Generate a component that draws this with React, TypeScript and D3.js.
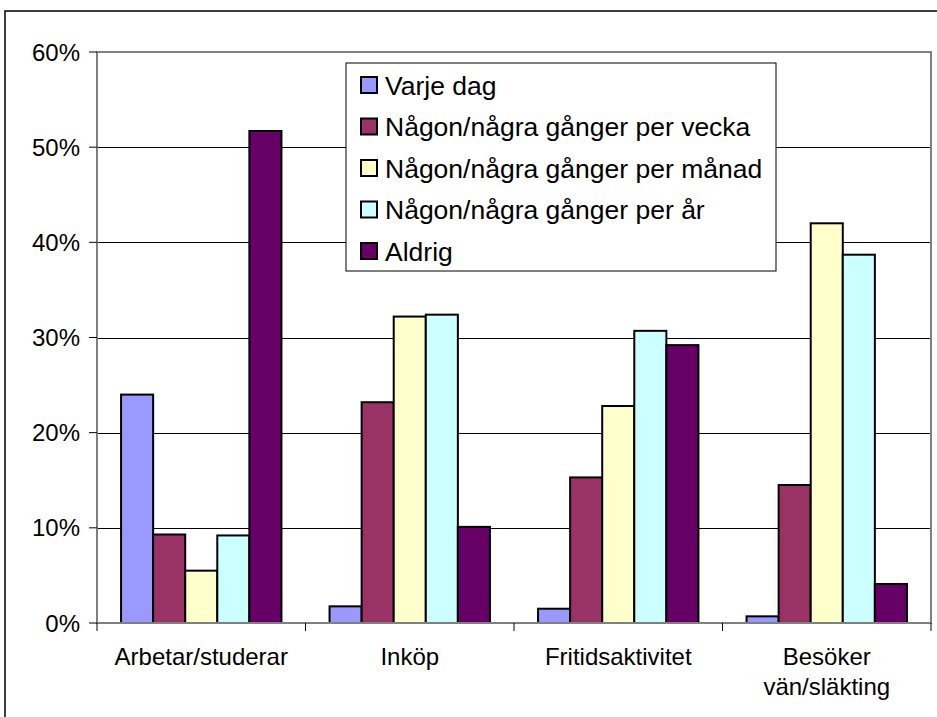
import React from "react";
import * as d3 from "d3";

const categories: string[][] = [
  ["Arbetar/studerar"],
  ["Inköp"],
  ["Fritidsaktivitet"],
  ["Besöker", "vän/släkting"],
];
const seriesNames = [
  "Varje dag",
  "Någon/några gånger per vecka",
  "Någon/några gånger per månad",
  "Någon/några gånger per år",
  "Aldrig",
];
const seriesColors = ["#9999FF", "#993366", "#FFFFCC", "#CCFFFF", "#660066"];
const varjeDag = [0.24, 0.0175, 0.015, 0.007];
const perVecka = [0.093, 0.232, 0.153, 0.145];
const perManad = [0.055, 0.322, 0.228, 0.42];
const perAr = [0.092, 0.324, 0.307, 0.387];
const aldrig = [0.517, 0.101, 0.292, 0.041];
const seriesValues = [varjeDag, perVecka, perManad, perAr, aldrig];
const yTicks = [0, 0.1, 0.2, 0.3, 0.4, 0.5, 0.6];

const W = 937;
const H = 717;
const plot = { left: 97, right: 931, top: 52, bottom: 623 };
const FONT = "Arial, 'Liberation Sans', sans-serif";

export default function App() {
  const catKeys = categories.map((c) => c.join(" "));
  const x = d3.scaleBand<string>().domain(catKeys).range([plot.left, plot.right]);
  const bw = x.bandwidth();
  const u = bw / 6.5;
  const xs = d3
    .scaleBand<string>()
    .domain(seriesNames)
    .range([0.75 * u, 5.75 * u]);
  const y = d3.scaleLinear().domain([0, 0.6]).range([plot.bottom, plot.top]);
  const fmt = d3.format(".0%");

  const boundaries = [...catKeys.map((k) => x(k) as number), plot.right];

  const legend = { x: 346, y: 63, w: 430, h: 208 };
  const rowH = 41.5;

  return (
    <svg
      width={W}
      height={H}
      style={{ position: "absolute", left: 0, top: 0, background: "#fff" }}
      fontFamily={FONT}
    >
      <rect x={0} y={0} width={W} height={H} fill="#fff" />
      {/* outer chart border */}
      <rect x={5} y={11} width={W + 50} height={H + 50} fill="none" stroke="#000" strokeWidth={1.5} />

      {/* gridlines */}
      {yTicks.map((t) => (
        <line
          key={"g" + t}
          x1={plot.left}
          x2={plot.right}
          y1={Math.round(y(t)) + 0.5}
          y2={Math.round(y(t)) + 0.5}
          stroke="#000"
          strokeWidth={1}
        />
      ))}
      {/* plot frame */}
      <rect
        x={plot.left}
        y={plot.top}
        width={plot.right - plot.left}
        height={plot.bottom - plot.top}
        fill="none"
        stroke="#808080"
        strokeWidth={2}
      />

      {/* bars */}
      {seriesValues.map((vals, si) =>
        vals.map((v, ci) => {
          const x0 = (x(catKeys[ci]) as number) + (xs(seriesNames[si]) as number);
          return (
            <rect
              key={`b${si}-${ci}`}
              x={x0}
              y={y(v)}
              width={xs.bandwidth()}
              height={y(0) - y(v)}
              fill={seriesColors[si]}
              stroke="#000"
              strokeWidth={2}
            />
          );
        })
      )}

      {/* axes */}
      <line x1={plot.left} x2={plot.left} y1={plot.top} y2={plot.bottom} stroke="#808080" strokeWidth={2} />
      <line x1={plot.left} x2={plot.right} y1={plot.bottom} y2={plot.bottom} stroke="#808080" strokeWidth={2} />
      {yTicks.map((t) => (
        <g key={"yt" + t}>
          <line x1={plot.left - 8} x2={plot.left} y1={y(t)} y2={y(t)} stroke="#000" strokeWidth={1} />
          <text x={80} y={y(t)} dy="0.36em" textAnchor="end" fontSize={24} fill="#000">
            {fmt(t)}
          </text>
        </g>
      ))}
      {boundaries.map((b, i) => (
        <line key={"xt" + i} x1={b} x2={b} y1={plot.bottom} y2={plot.bottom + 8} stroke="#000" strokeWidth={1} />
      ))}
      {categories.map((lines, ci) => (
        <text
          key={"cl" + ci}
          x={(x(catKeys[ci]) as number) + bw / 2}
          y={665}
          textAnchor="middle"
          fontSize={24}
          fill="#000"
        >
          {lines.map((l, li) => (
            <tspan key={li} x={(x(catKeys[ci]) as number) + bw / 2} dy={li === 0 ? 0 : 30}>
              {l}
            </tspan>
          ))}
        </text>
      ))}

      {/* legend */}
      <rect x={legend.x} y={legend.y} width={legend.w} height={legend.h} fill="#fff" stroke="#000" strokeWidth={1} />
      {seriesNames.map((n, i) => {
        const cy = 85 + i * rowH;
        return (
          <g key={"l" + i}>
            <rect x={361} y={cy - 8} width={16} height={16} fill={seriesColors[i]} stroke="#000" strokeWidth={2} />
            <text x={385} y={cy} dy="0.36em" fontSize={26.5} fill="#000">
              {n}
            </text>
          </g>
        );
      })}
    </svg>
  );
}
